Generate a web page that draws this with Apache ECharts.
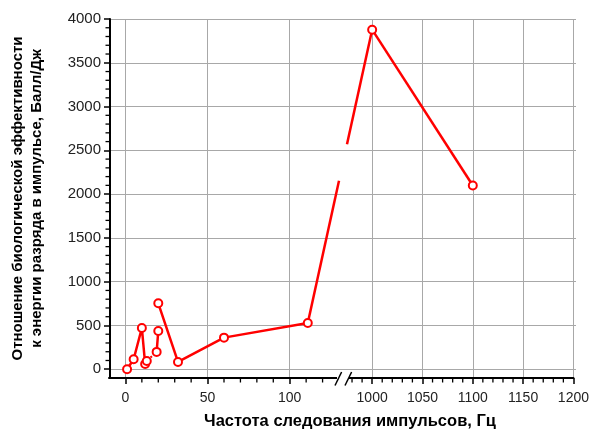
<!DOCTYPE html>
<html><head><meta charset="utf-8">
<script src="https://cdn.jsdelivr.net/npm/echarts@6/dist/echarts.min.js"></script>
<style>html,body{margin:0;padding:0;background:#fff}#c{width:592px;height:429px}</style>
</head><body><div id="c"></div>
<script>
// ---- data ----
const leftX  = [1, 5, 10, 12, 13, 19, 20, 20, 32, 60, 111];
const leftY  = [0, 114, 471, 60, 95, 198, 437, 753, 83, 361, 528];
const rightX = [1000, 1100];
const rightY = [3878, 2098];
// how consecutive left points are joined
const leftLinks = ['solid', 'solid', 'solid', 'solid', 'dotted', 'solid', 'none', 'solid', 'solid', 'solid'];
const xLeftRange  = [-10, 130];
const xRightRange = [975, 1200];
const yRange      = [-100, 4000];
const yTitle = 'Отношение биологической эффективности\nк энергии разряда в импульсе, Балл/Дж';
const xTitle = 'Частота следования импульсов, Гц';

// ---- layout ----
const G_TOP = 19, G_BOTTOM = 51, G_LEFT = 109, LEFT_W = 230, RIGHT_L = 347, G_RIGHT = 16, H = 429;
const FONT = '"Liberation Sans", Arial, sans-serif';
const RED = '#ff0000';
const GRIDC = '#a8a8a8';

// build series data
const solidData = [];
const dottedData = [];
for (let i = 0; i < leftX.length; i++) {
  solidData.push([leftX[i], leftY[i]]);
  if (i < leftLinks.length && leftLinks[i] !== 'solid') solidData.push('-');
  if (i < leftLinks.length && leftLinks[i] === 'dotted') {
    dottedData.push([leftX[i], leftY[i]], [leftX[i + 1], leftY[i + 1]], '-');
  }
}
const rightData = rightX.map((x, i) => [x, rightY[i]]);
const crossData = [[leftX[leftX.length - 1], leftY[leftY.length - 1], rightX[0], rightY[0]]];

// minor tick values (axis decoration: every 10 on x, every 100 on y)
function minorValues(from, to, step, major) {
  const r = [];
  for (let v = from; v <= to; v += step) if (v % major !== 0) r.push(v);
  return r;
}
const yMinorVals = minorValues(0, 4000, 100, 500);
const xLeftMinorVals = minorValues(10, 120, 10, 50);
const xRightMinorVals = minorValues(980, 1190, 10, 50);

const chart = echarts.init(document.getElementById('c'), null, {renderer: 'canvas'});

const plain = v => String(v);
function dataXAxis(grid, range, split, showMaxLine) {
  return {
    gridIndex: grid, type: 'value', position: 'bottom', min: range[0], max: range[1], splitNumber: split,
    axisLine: {show: true, onZero: false, lineStyle: {color: '#000', width: 2}},
    axisTick: {show: true, length: 6, lineStyle: {color: '#000', width: 1.5}},
    axisLabel: {showMinLabel: false, showMaxLabel: showMaxLine, margin: 13, fontSize: 14, color: '#222', fontFamily: FONT, formatter: plain},
    splitLine: {show: true, showMinLine: false, showMaxLine: showMaxLine, lineStyle: {color: GRIDC, width: 1}}
  };
}
const hiddenY = g => ({gridIndex: g, type: 'value', min: yRange[0], max: yRange[1], show: false});

const xa = G_LEFT + LEFT_W, xb = RIGHT_L, ya = H - G_BOTTOM;
const slash = cx => ({type: 'line', z: 101, shape: {x1: cx - 3.3, y1: ya + 7.5, x2: cx + 3.3, y2: ya - 6}, style: {stroke: '#000', lineWidth: 1.5}});
const baseGraphics = [
  {type: 'rect', z: 100, shape: {x: xa - 2, y: ya - 2, width: xb - xa + 4, height: 10}, style: {fill: '#fff'}},
  slash(xa - 0.7),
  slash(xb + 1.3),
  {type: 'text', z: 100, x: 350, y: 421, style: {text: xTitle, align: 'center', verticalAlign: 'middle', fontSize: 16.5, fontWeight: 'bold', fontFamily: FONT, fill: '#000'}}
];

chart.setOption({
  animation: false,
  backgroundColor: '#fff',
  grid: [
    {left: G_LEFT, right: G_RIGHT, top: G_TOP, bottom: G_BOTTOM},
    {left: G_LEFT, width: LEFT_W, top: G_TOP, bottom: G_BOTTOM},
    {left: RIGHT_L, right: G_RIGHT, top: G_TOP, bottom: G_BOTTOM}
  ],
  xAxis: [
    {gridIndex: 0, type: 'value', min: 0, max: 1, show: false},
    dataXAxis(1, xLeftRange, 3, false),
    dataXAxis(2, xRightRange, 5, true)
  ],
  yAxis: [
    {
      gridIndex: 0, type: 'value', position: 'left', min: yRange[0], max: yRange[1], splitNumber: 8,
      axisLine: {show: true, onZero: false, lineStyle: {color: '#000', width: 2}},
      axisTick: {show: true, length: 6, lineStyle: {color: '#000', width: 1.5}},
      axisLabel: {showMinLabel: false, margin: 9, fontSize: 15, color: '#222', fontFamily: FONT, formatter: plain},
      splitLine: {show: true, showMinLine: false, lineStyle: {color: GRIDC, width: 1}},
      name: yTitle, nameLocation: 'middle', nameRotate: 90, nameGap: 64,
      nameTextStyle: {fontWeight: 'bold', fontSize: 15, lineHeight: 19, color: '#000', fontFamily: FONT, align: 'center'}
    },
    hiddenY(1), hiddenY(2)
  ],
  graphic: baseGraphics,
  series: [
    {
      type: 'custom', xAxisIndex: 1, yAxisIndex: 1, clip: false, z: 2, silent: true,
      data: crossData,
      renderItem: function (params, api) {
        const p1 = api.coord([api.value(0), api.value(1)]);
        const p2 = chart.convertToPixel({seriesIndex: 3}, [api.value(2), api.value(3)]);
        if (!p2 || isNaN(p2[0])) return null;
        const cs = params.coordSys;
        const xl = cs.x + cs.width;
        const xr = chart.convertToPixel({xAxisIndex: 2}, xRightRange[0]);
        const at = x => [x, p1[1] + (p2[1] - p1[1]) * (x - p1[0]) / (p2[0] - p1[0])];
        const style = {stroke: RED, lineWidth: 2.5, fill: null};
        const a = at(xl), b = at(xr);
        return {type: 'group', children: [
          {type: 'line', shape: {x1: p1[0], y1: p1[1], x2: a[0], y2: a[1]}, style: style},
          {type: 'line', shape: {x1: b[0], y1: b[1], x2: p2[0], y2: p2[1]}, style: style}
        ]};
      }
    },
    {
      type: 'line', xAxisIndex: 1, yAxisIndex: 1, data: dottedData, showSymbol: false, z: 2,
      lineStyle: {color: RED, width: 2, type: [2, 3]}, connectNulls: false
    },
    {
      type: 'line', xAxisIndex: 1, yAxisIndex: 1, data: solidData, connectNulls: false, z: 3,
      symbol: 'circle', symbolSize: 8, showSymbol: true, showAllSymbol: true,
      itemStyle: {color: '#fff', borderColor: RED, borderWidth: 2},
      lineStyle: {color: RED, width: 2.5}
    },
    {
      type: 'line', xAxisIndex: 2, yAxisIndex: 2, data: rightData, z: 3,
      symbol: 'circle', symbolSize: 8, showSymbol: true,
      itemStyle: {color: '#fff', borderColor: RED, borderWidth: 2},
      lineStyle: {color: RED, width: 2.5}
    }
  ]
});

// minor ticks placed through the axes' own value-to-pixel mapping
const tickStyle = {stroke: '#000', lineWidth: 1.3};
const tickEls = [];
yMinorVals.forEach(v => {
  const p = chart.convertToPixel({xAxisIndex: 0, yAxisIndex: 0}, [0, v]);
  if (p) tickEls.push({type: 'line', z: 60, shape: {x1: p[0] - 4.5, y1: p[1], x2: p[0], y2: p[1]}, style: tickStyle});
});
xLeftMinorVals.forEach(v => {
  const p = chart.convertToPixel({xAxisIndex: 1, yAxisIndex: 1}, [v, yRange[0]]);
  if (p) tickEls.push({type: 'line', z: 60, shape: {x1: p[0], y1: p[1], x2: p[0], y2: p[1] + 4.5}, style: tickStyle});
});
xRightMinorVals.forEach(v => {
  const p = chart.convertToPixel({xAxisIndex: 2, yAxisIndex: 2}, [v, yRange[0]]);
  if (p) tickEls.push({type: 'line', z: 60, shape: {x1: p[0], y1: p[1], x2: p[0], y2: p[1] + 4.5}, style: tickStyle});
});
chart.setOption({graphic: baseGraphics.concat(tickEls)});
</script>
</body></html>
